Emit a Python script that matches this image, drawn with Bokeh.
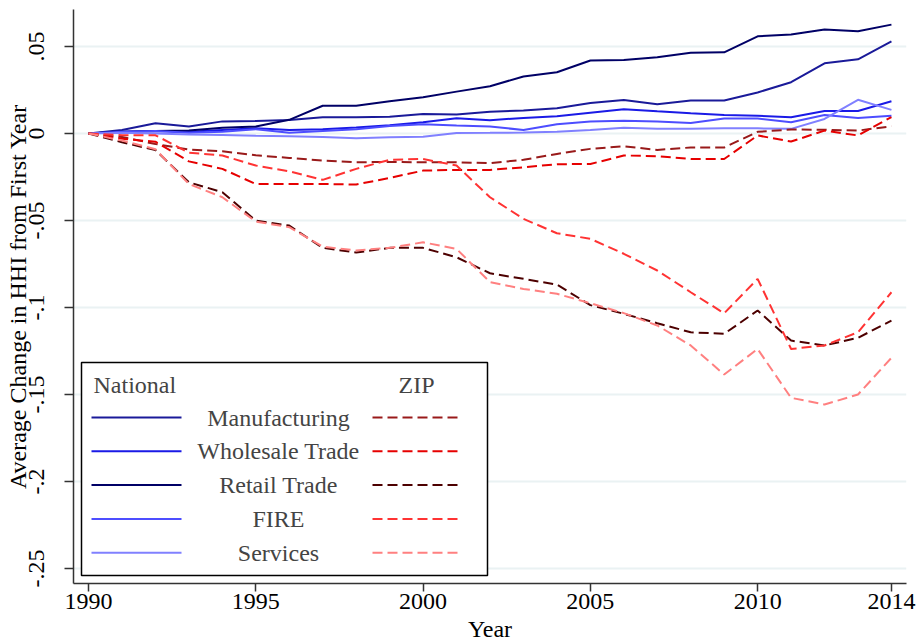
from bokeh.plotting import figure
from bokeh.models import (FixedTicker, Range1d, Label, BoxAnnotation, Arrow)
from bokeh.embed import file_html
from bokeh.resources import INLINE

years = list(range(1990, 2015))

nat_manuf = [0, 0.002, 0.0059, 0.004, 0.007, 0.0072, 0.0078, 0.0094, 0.0094, 0.0096, 0.0112, 0.011, 0.0126,
             0.0132, 0.0146, 0.0176, 0.0193, 0.0169, 0.019, 0.019, 0.0236, 0.0295, 0.0404, 0.0427, 0.053]
nat_wholesale = [0, 0.001, 0.0015, 0.001, 0.002, 0.003, 0.002, 0.0025, 0.0035, 0.0048, 0.0065, 0.0088, 0.0077,
                 0.009, 0.01, 0.012, 0.014, 0.0128, 0.0117, 0.0107, 0.0102, 0.0094, 0.013, 0.013, 0.0186]
nat_retail = [0, 0.001, 0.0015, 0.0017, 0.0033, 0.004, 0.0079, 0.016, 0.016, 0.0186, 0.0209, 0.0241, 0.0272,
              0.0328, 0.0352, 0.042, 0.0423, 0.0439, 0.0464, 0.0467, 0.0559, 0.0569, 0.0598, 0.0588, 0.0626]
nat_fire = [0, 0.001, 0.0015, 0.0005, 0.001, 0.0025, 0.0005, 0.0015, 0.0025, 0.0044, 0.0054, 0.0046, 0.004,
            0.0021, 0.0054, 0.0069, 0.0073, 0.0069, 0.0061, 0.0086, 0.0086, 0.0065, 0.0107, 0.009, 0.0102]
nat_services = [0, 0.0005, 0.0, -0.0005, -0.0008, -0.0013, -0.0015, -0.002, -0.0027, -0.0021, -0.0019, 0.0003,
                0.0004, 0.0006, 0.0011, 0.0021, 0.0033, 0.0028, 0.0028, 0.003, 0.003, 0.0027, 0.0084, 0.0194, 0.0136]

zip_manuf = [0, -0.002, -0.006, -0.0092, -0.0102, -0.0125, -0.014, -0.0155, -0.0165, -0.0163, -0.0165, -0.0165,
             -0.017, -0.0151, -0.0117, -0.0088, -0.0073, -0.0094, -0.008, -0.008, 0.001, 0.0023, 0.0022, 0.0017, 0.0042]
zip_wholesale = [0, -0.003, -0.0047, -0.016, -0.0203, -0.029, -0.029, -0.029, -0.0293, -0.0255, -0.0213, -0.0209,
                 -0.0209, -0.0194, -0.0176, -0.0175, -0.0126, -0.013, -0.0146, -0.0146, -0.0011, -0.0046, 0.0017,
                 -0.0011, 0.0095]
zip_retail = [0, -0.005, -0.0095, -0.028, -0.0337, -0.05, -0.0529, -0.0657, -0.0684, -0.0657, -0.0657, -0.0711,
              -0.0803, -0.0835, -0.0868, -0.0986, -0.1036, -0.109, -0.1142, -0.1151, -0.1017, -0.119, -0.1218,
              -0.1174, -0.1075]
zip_fire = [0, -0.001, -0.001, -0.011, -0.0126, -0.0184, -0.0217, -0.0266, -0.0203, -0.0151, -0.0146, -0.0184,
            -0.0366, -0.049, -0.0573, -0.0605, -0.0691, -0.0787, -0.0912, -0.1033, -0.0835, -0.1238, -0.1218,
            -0.1142, -0.0912]
zip_services = [0, -0.004, -0.009, -0.029, -0.0366, -0.0506, -0.0538, -0.065, -0.0672, -0.0657, -0.0625, -0.0663,
                -0.0854, -0.0893, -0.0921, -0.0975, -0.1032, -0.1103, -0.1218, -0.1385, -0.1238, -0.1519, -0.1557,
                -0.15, -0.1289]

industries = ["Manufacturing", "Wholesale Trade", "Retail Trade", "FIRE", "Services"]
national_series = [nat_manuf, nat_wholesale, nat_retail, nat_fire, nat_services]
zip_series = [zip_manuf, zip_wholesale, zip_retail, zip_fire, zip_services]
national_colors = ["#1a1a99", "#1a1ae6", "#000066", "#4d4dff", "#8080ff"]
zip_colors = ["#991a1a", "#e60000", "#4d0000", "#ff3333", "#ff8080"]

x_ticks = [1990, 1995, 2000, 2005, 2010, 2014]
y_ticks = [-0.25, -0.2, -0.15, -0.1, -0.05, 0.0, 0.05]
y_tick_labels = ["-.25", "-.2", "-.15", "-.1", "-.05", "0", ".05"]

FONT = "Liberation Serif"
FS = "24px"

p = figure(width=916, height=644, output_backend="svg", toolbar_location=None,
           x_range=Range1d(1989.55, 2014.45), y_range=Range1d(-0.2586, 0.0713),
           min_border_left=73, min_border_right=10, min_border_top=9, min_border_bottom=61)
p.outline_line_color = None
p.background_fill_color = "white"
p.border_fill_color = "white"
p.xgrid.grid_line_color = None
p.ygrid.grid_line_color = "#eaf2f3"
p.ygrid.grid_line_width = 2

for s, c in zip(national_series, national_colors):
    p.line(years, s, line_color=c, line_width=2)
for s, c in zip(zip_series, zip_colors):
    p.line(years, s, line_color=c, line_width=2, line_dash="10 5")

# axes
p.xaxis.ticker = FixedTicker(ticks=x_ticks)
p.yaxis.ticker = FixedTicker(ticks=y_ticks)
p.yaxis.major_label_overrides = {t: l for t, l in zip(y_ticks, y_tick_labels)}
p.yaxis.major_label_orientation = "vertical"
p.yaxis.axis_label = "Average Change in HHI from First Year"
p.xaxis.axis_label = "Year"
for ax in (p.xaxis[0], p.yaxis[0]):
    ax.axis_line_color = "#333333"
    ax.axis_line_width = 1.5
    ax.major_tick_line_color = "#333333"
    ax.major_tick_line_width = 1.5
    ax.major_tick_in = 0
    ax.minor_tick_line_color = None
    ax.major_label_text_font = FONT
    ax.major_label_text_font_size = FS
    ax.major_label_text_color = "black"
    ax.axis_label_text_font = FONT
    ax.axis_label_text_font_size = FS
    ax.axis_label_text_font_style = "normal"
    ax.axis_label_text_color = "black"
p.yaxis.major_tick_out = 9
p.yaxis.major_label_standoff = 20
p.yaxis.axis_label_standoff = -4
p.xaxis.major_tick_out = 8
p.xaxis.major_label_standoff = 2
p.xaxis.axis_label_standoff = 4

# legend (drawn manually, canvas units)
p.add_layout(BoxAnnotation(left=81, right=487, top=362, bottom=575,
                           left_units="canvas", right_units="canvas",
                           top_units="canvas", bottom_units="canvas",
                           fill_color="white", fill_alpha=1.0,
                           line_color="black", line_width=1.5, line_alpha=1.0))
p.add_layout(Label(x=93, y=384, x_units="canvas", y_units="canvas", text="National",
                   text_font=FONT, text_font_size=FS, text_align="left", text_baseline="middle"))
p.add_layout(Label(x=416, y=384, x_units="canvas", y_units="canvas", text="ZIP",
                   text_font=FONT, text_font_size=FS, text_align="center", text_baseline="middle"))
row_y = 417
for name, nc, zc in zip(industries, national_colors, zip_colors):
    p.add_layout(Arrow(x_start=91, y_start=row_y, x_end=181, y_end=row_y,
                       start_units="canvas", end_units="canvas", end=None,
                       line_color=nc, line_width=2))
    p.add_layout(Arrow(x_start=372, y_start=row_y, x_end=462, y_end=row_y,
                       start_units="canvas", end_units="canvas", end=None,
                       line_color=zc, line_width=2, line_dash="10 5"))
    p.add_layout(Label(x=278, y=row_y, x_units="canvas", y_units="canvas", text=name,
                       text_font=FONT, text_font_size=FS, text_align="center", text_baseline="middle"))
    row_y += 33.8

open("out.html", "w").write(file_html(p, INLINE))
